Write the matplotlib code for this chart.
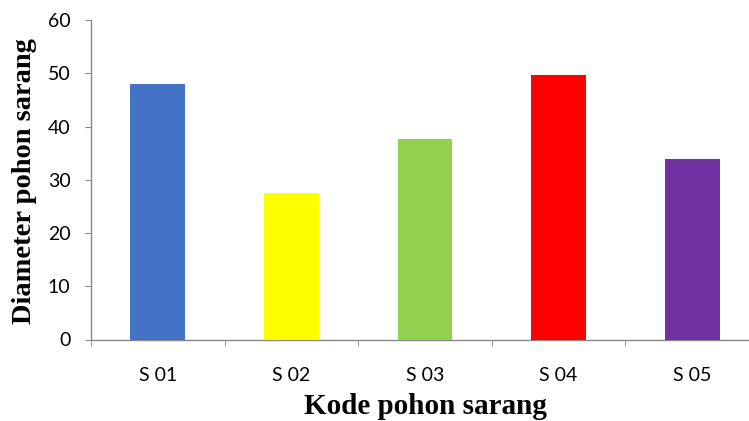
import matplotlib
matplotlib.use("Agg")
import matplotlib.pyplot as plt

categories = ["S 01", "S 02", "S 03", "S 04", "S 05"]
values = [48.0, 27.5, 37.7, 49.7, 33.9]
colors = ["#4472C4", "#FFFF00", "#92D050", "#FF0000", "#7030A0"]
yticks = [0, 10, 20, 30, 40, 50, 60]

W, H = 749, 421
fig = plt.figure(figsize=(W / 100, H / 100), dpi=100)
left, right = 91 / W, 1.0
bottom, top = 1 - 339.5 / H, 1 - 20 / H
ax = fig.add_axes([left, bottom, right - left, top - bottom])

x = list(range(len(categories)))
ax.bar(x, values, width=0.41, color=colors, zorder=3)

ax.set_xlim(-0.5, 4.425)
ax.set_ylim(0, 60)
ax.set_yticks(yticks)
ax.set_yticklabels([str(t) for t in yticks], fontfamily="Lato", fontsize=14)

ax.set_xticks(x)
ax.set_xticklabels(categories, fontfamily="Lato", fontsize=14)
ax.tick_params(axis="x", length=0, pad=19.5)
ax.set_xticks([i - 0.5 for i in range(len(categories))], minor=True)
ax.tick_params(axis="x", which="minor", length=4.3, color="#888888", direction="out")
ax.tick_params(axis="y", length=4.3, color="#888888", direction="out", pad=10.5)

for s in ["top", "right"]:
    ax.spines[s].set_visible(False)
for s in ["left", "bottom"]:
    ax.spines[s].set_color("#888888")
    ax.spines[s].set_linewidth(1.0)

fig.text(25 / W, 1 - 181.5 / H, "Diameter pohon sarang", rotation=90,
         ha="center", va="center", fontfamily="Liberation Serif",
         fontweight="bold", fontsize=20.5)
fig.text(425.5 / W, 1 - 413.5 / H, "Kode pohon sarang", ha="center", va="baseline",
         fontfamily="Liberation Serif", fontweight="bold", fontsize=21)

fig.savefig("out.png", dpi=100)
